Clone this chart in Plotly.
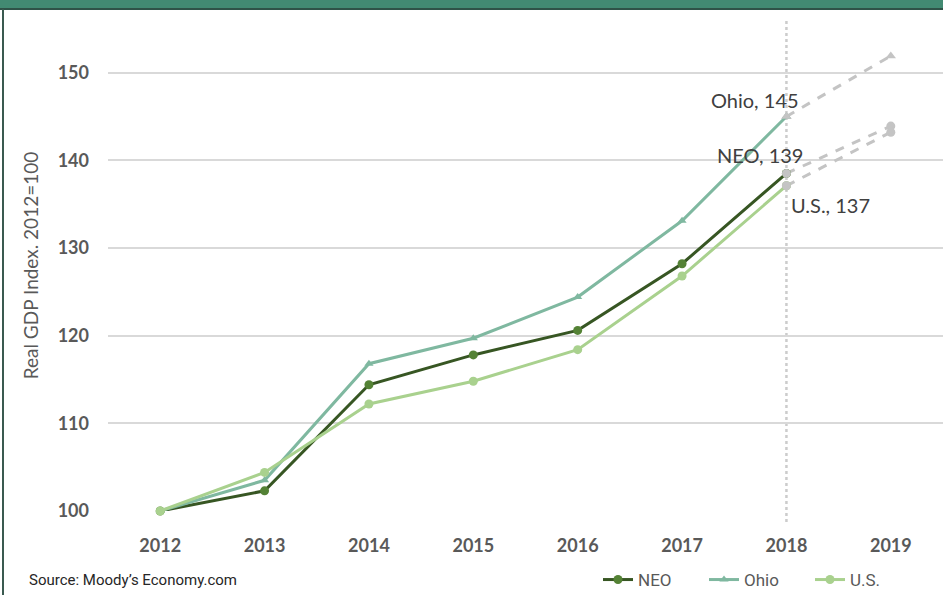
import plotly.graph_objects as go

years = ["2012", "2013", "2014", "2015", "2016", "2017", "2018"]
forecast_years = ["2018", "2019"]
neo = [100, 102.3, 114.4, 117.8, 120.6, 128.2, 138.5]
ohio = [100, 103.5, 116.8, 119.7, 124.4, 133.1, 145.0]
us = [100, 104.4, 112.2, 114.8, 118.4, 126.8, 137.1]
neo_fc = [138.5, 143.9]
ohio_fc = [145.0, 151.9]
us_fc = [137.1, 143.2]
all_years = ["2012", "2013", "2014", "2015", "2016", "2017", "2018", "2019"]
yticks = [100, 110, 120, 130, 140, 150]

W, H = 943, 595
L, R, T, B = 108, 943, 20, 511
pw, ph = R - L, B - T

def px(p):
    return (p - L) / pw

def py(q):
    return (B - q) / ph

fig = go.Figure()

gray = "#c4c4c4"
for name, vals in [("NEO", neo_fc), ("Ohio", ohio_fc), ("U.S.", us_fc)]:
    sym = "triangle-up" if name == "Ohio" else "circle"
    fig.add_trace(go.Scatter(
        x=forecast_years, y=vals, mode="lines+markers", showlegend=False,
        line=dict(color=gray, width=3, dash="dash"),
        marker=dict(color=gray, size=9, symbol=sym),
        cliponaxis=False, hoverinfo="skip"))

idx2018 = all_years.index("2018")
shapes = [
    dict(type="line", xref="x", yref="paper", x0=idx2018, x1=idx2018, y0=py(522), y1=1.0,
         line=dict(color="#cccccc", width=2.5, dash="dot"), layer="between"),
    dict(type="rect", xref="paper", yref="paper", x0=px(-2), x1=px(W + 2), y0=py(0), y1=py(8),
         fillcolor="#428a72", line=dict(width=0)),
    dict(type="line", xref="paper", yref="paper", x0=px(0), x1=px(W + 2), y0=py(9), y1=py(9),
         line=dict(color="#2f5247", width=2)),
    dict(type="line", xref="paper", yref="paper", x0=px(3), x1=px(3), y0=py(9), y1=py(W),
         line=dict(color="#3a5a50", width=2)),
]

series = [
    ("NEO", neo, "#375623", "#548235", "circle", 9),
    ("Ohio", ohio, "#7fb8a0", "#7fb8a0", "triangle-up", 8),
    ("U.S.", us, "#a9d18e", "#a9d18e", "circle", 9),
]
for name, vals, lc, mc, sym, sz in series:
    fig.add_trace(go.Scatter(
        x=years, y=vals, mode="lines+markers", name=name,
        line=dict(color=lc, width=3),
        marker=dict(color=mc, size=sz, symbol=sym),
        cliponaxis=False))

for vals, sym in [(neo_fc, "circle"), (ohio_fc, "triangle-up"), (us_fc, "circle")]:
    fig.add_trace(go.Scatter(
        x=[forecast_years[0]], y=[vals[0]], mode="markers", showlegend=False,
        marker=dict(color=gray, size=9, symbol=sym),
        cliponaxis=False, hoverinfo="skip"))

lab_font = dict(size=20, color="#404040", family="Lato")
annotations = [
    dict(text="Ohio, 145", x=px(755), y=py(100), xref="paper", yref="paper", showarrow=False,
         xanchor="center", yanchor="middle", font=lab_font),
    dict(text="NEO, 139", x=px(760), y=py(155), xref="paper", yref="paper", showarrow=False,
         xanchor="center", yanchor="middle", font=lab_font),
    dict(text="U.S., 137", x=px(830), y=py(205), xref="paper", yref="paper", showarrow=False,
         xanchor="center", yanchor="middle", font=lab_font),
    dict(text="Source: Moody’s Economy.com", x=px(27), y=py(580), xref="paper", yref="paper",
         xanchor="left", yanchor="middle", showarrow=False,
         font=dict(size=15, color="#262626", family="Roboto")),
]

fig.update_layout(
    width=W, height=H,
    margin=dict(l=L, r=W - R, t=T, b=H - B, pad=0, autoexpand=False),
    paper_bgcolor="white", plot_bgcolor="white",
    font=dict(family="Lato", color="#595959"),
    shapes=shapes, annotations=annotations,
    xaxis=dict(type="category", categoryorder="array", categoryarray=all_years,
               range=[-0.5, 7.5], showgrid=False, zeroline=False, showline=False,
               tickfont=dict(size=18, color="#595959", family="Lato", weight="bold"),
               ticks="", ticklabelstandoff=22, automargin=False),
    yaxis=dict(range=[100, 156], tickvals=yticks, showgrid=True, gridcolor="#d9d9d9",
               gridwidth=1.5, zeroline=False, showline=False, automargin=False,
               tickfont=dict(size=18, color="#595959", family="Lato", weight="bold"),
               ticks="", ticklabelstandoff=18,
               title=dict(text="Real GDP Index. 2012=100", standoff=14,
                          font=dict(size=19, color="#595959", family="Lato"))),
    legend=dict(orientation="h", x=px(598), y=py(580), xanchor="left", yanchor="middle",
                font=dict(size=17, color="#595959", family="Roboto"),
                entrywidth=61, entrywidthmode="pixels", itemwidth=30,
                bgcolor="rgba(0,0,0,0)", tracegroupgap=0),
    showlegend=True,
)

fig.write_html("out.html", config={"displayModeBar": False},
               post_script="document.body.style.margin='0';document.body.style.overflow='hidden';")
